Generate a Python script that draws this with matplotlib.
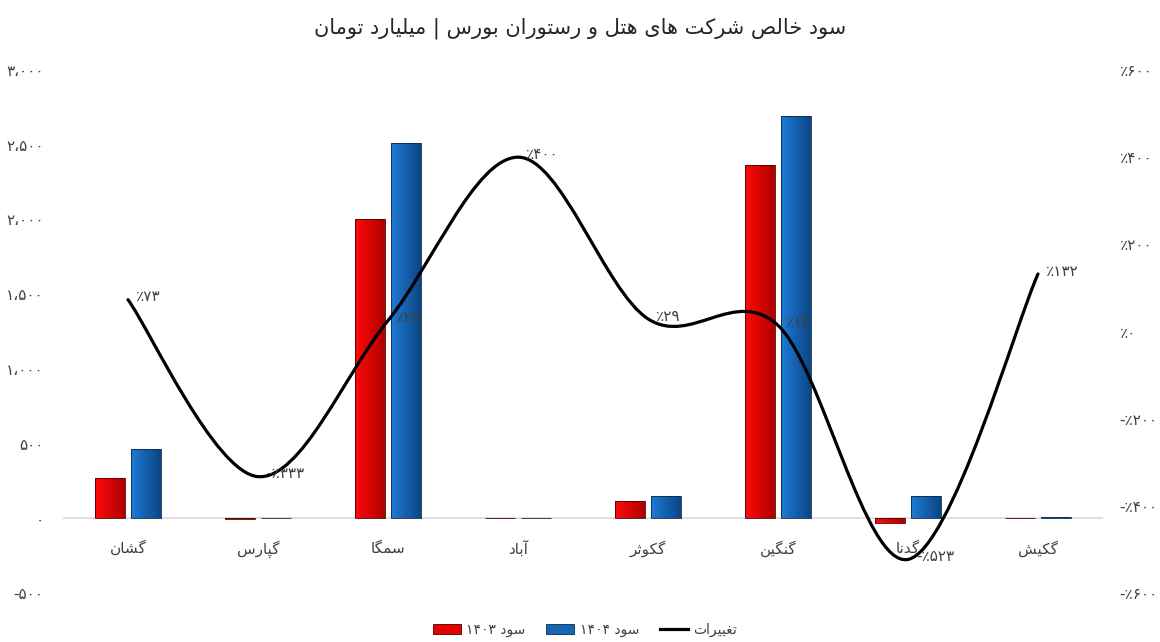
import matplotlib
matplotlib.use('Agg')
import matplotlib.pyplot as plt
import numpy as np
from matplotlib.path import Path
from matplotlib.patches import PathPatch, Patch
from matplotlib.lines import Line2D
from matplotlib.colors import LinearSegmentedColormap
from matplotlib.ticker import FuncFormatter, FixedLocator

# ---------------- data ----------------
categories = ['گشان', 'گپارس', 'سمگا', 'آباد', 'گکوثر', 'گنگین', 'گدنا', 'گکیش']
profit_1403 = [267, -5, 2005, 3, 114, 2366, -33, 3]
profit_1404 = [461, 5, 2513, 3, 147, 2694, 147, 8]
change_pct = [73, -333, 25, 400, 29, 14, -523, 132]
left_ticks = [-500, 0, 500, 1000, 1500, 2000, 2500, 3000]
right_ticks = [-600, -400, -200, 0, 200, 400, 600]
title_text = 'سود خالص شرکت های هتل و رستوران بورس | میلیارد تومان'
series_names = ['سود ۱۴۰۳', 'سود ۱۴۰۴', 'تغییرات']

plt.rcParams['font.family'] = ['DejaVu Sans']

# ---------------- minimal Persian shaping (matplotlib has no bidi/shaping) ----------------
FORMS = {
    'ا': ('\uFE8D', '\uFE8E', None, None),
    'آ': ('\uFE81', '\uFE82', None, None),
    'ب': ('\uFE8F', '\uFE90', '\uFE91', '\uFE92'),
    'پ': ('\uFB56', '\uFB57', '\uFB58', '\uFB59'),
    'ت': ('\uFE95', '\uFE96', '\uFE97', '\uFE98'),
    'ث': ('\uFE99', '\uFE9A', '\uFE9B', '\uFE9C'),
    'ج': ('\uFE9D', '\uFE9E', '\uFE9F', '\uFEA0'),
    'ح': ('\uFEA1', '\uFEA2', '\uFEA3', '\uFEA4'),
    'خ': ('\uFEA5', '\uFEA6', '\uFEA7', '\uFEA8'),
    'د': ('\uFEA9', '\uFEAA', None, None),
    'ذ': ('\uFEAB', '\uFEAC', None, None),
    'ر': ('\uFEAD', '\uFEAE', None, None),
    'ز': ('\uFEAF', '\uFEB0', None, None),
    'س': ('\uFEB1', '\uFEB2', '\uFEB3', '\uFEB4'),
    'ش': ('\uFEB5', '\uFEB6', '\uFEB7', '\uFEB8'),
    'ص': ('\uFEB9', '\uFEBA', '\uFEBB', '\uFEBC'),
    'ض': ('\uFEBD', '\uFEBE', '\uFEBF', '\uFEC0'),
    'ط': ('\uFEC1', '\uFEC2', '\uFEC3', '\uFEC4'),
    'ظ': ('\uFEC5', '\uFEC6', '\uFEC7', '\uFEC8'),
    'ع': ('\uFEC9', '\uFECA', '\uFECB', '\uFECC'),
    'غ': ('\uFECD', '\uFECE', '\uFECF', '\uFED0'),
    'ف': ('\uFED1', '\uFED2', '\uFED3', '\uFED4'),
    'ق': ('\uFED5', '\uFED6', '\uFED7', '\uFED8'),
    'ک': ('\uFB8E', '\uFB8F', '\uFB90', '\uFB91'),
    'گ': ('\uFB92', '\uFB93', '\uFB94', '\uFB95'),
    'ل': ('\uFEDD', '\uFEDE', '\uFEDF', '\uFEE0'),
    'م': ('\uFEE1', '\uFEE2', '\uFEE3', '\uFEE4'),
    'ن': ('\uFEE5', '\uFEE6', '\uFEE7', '\uFEE8'),
    'ه': ('\uFEE9', '\uFEEA', '\uFEEB', '\uFEEC'),
    'و': ('\uFEED', '\uFEEE', None, None),
    'ی': ('\uFBFC', '\uFBFD', '\uFBFE', '\uFBFF'),
}
DIGITS = set('0123456789۰۱۲۳۴۵۶۷۸۹،٬.')


def rtl(s):
    chars = list(s)
    shaped = []
    for i, c in enumerate(chars):
        if c not in FORMS:
            shaped.append(c)
            continue
        prev = chars[i - 1] if i > 0 else None
        nxt = chars[i + 1] if i + 1 < len(chars) else None
        jp = prev in FORMS and FORMS[prev][2] is not None
        jn = FORMS[c][2] is not None and nxt in FORMS
        iso, fin, ini, med = FORMS[c]
        if jp and jn:
            shaped.append(med)
        elif jp:
            shaped.append(fin)
        elif jn:
            shaped.append(ini)
        else:
            shaped.append(iso)
    tokens = []
    for c in shaped:
        if c in DIGITS and tokens and tokens[-1][0] in DIGITS:
            tokens[-1] += c
        else:
            tokens.append(c)
    return ''.join(reversed(tokens))


FA = str.maketrans('0123456789', '۰۱۲۳۴۵۶۷۸۹')


def fa_num(v):
    s = f'{abs(int(round(v))):,}'.replace(',', '،').translate(FA)
    return ('-' if v < 0 else '') + s


def fa_pct(v):
    s = str(abs(int(round(v)))).translate(FA)
    return ('-' if v < 0 else '') + '٪' + s


# ---------------- figure ----------------
W, H = 1160, 642
fig = plt.figure(figsize=(W / 100, H / 100), dpi=100)
ax = fig.add_axes([63 / W, 1 - 593 / H, 1040 / W, 523 / H])
ax2 = ax.twinx()

n = len(categories)
x = np.arange(n)
bw = 0.23
off = 0.138
TXT = '#404040'

red_bars = ax.bar(x - off, profit_1403, bw, facecolor='none', edgecolor='#4a0000', linewidth=0.6, zorder=3)
blue_bars = ax.bar(x + off, profit_1404, bw, facecolor='none', edgecolor='#0a2a4a', linewidth=0.6, zorder=3)


def gradient_fill(bars, c0, c1):
    cmap = LinearSegmentedColormap.from_list('g', [c0, c1])
    grad = np.linspace(0, 1, 64).reshape(1, -1)
    for b in bars:
        bx, by = b.get_x(), b.get_y()
        bw_, bh = b.get_width(), b.get_height()
        im = ax.imshow(grad, cmap=cmap, extent=(bx, bx + bw_, by, by + bh), aspect='auto',
                       interpolation='bilinear', zorder=2.9)
        im.set_clip_path(b)


gradient_fill(red_bars, '#ff0a0a', '#b00000')
gradient_fill(blue_bars, '#1f7ad6', '#0b4685')

ax.axhline(0, color='#d9d9d9', lw=1.2, zorder=1)

ax.set_xlim(-0.5, n - 0.5)
ax.set_ylim(-500, 3000)
ax2.set_ylim(-600, 600)

for a in (ax, ax2):
    for sp in a.spines.values():
        sp.set_visible(False)
ax.spines['bottom'].set_position(('data', 0))

ax.set_xticks(x)
ax.set_xticklabels([rtl(c) for c in categories], fontsize=11, color=TXT)
ax.tick_params(axis='x', length=0, pad=16)
ax.yaxis.set_major_locator(FixedLocator(left_ticks))
ax.yaxis.set_major_formatter(FuncFormatter(lambda v, p: fa_num(v)))
ax.tick_params(axis='y', length=0, pad=14, labelsize=11, labelcolor=TXT)
ax2.yaxis.set_major_locator(FixedLocator(right_ticks))
ax2.yaxis.set_major_formatter(FuncFormatter(lambda v, p: fa_pct(v)))
ax2.tick_params(axis='y', length=0, pad=12, labelsize=11, labelcolor=TXT)

# smoothed line (Bezier through the data points, Excel-style smoothing)
y = np.array(change_pct, dtype=float)
verts = [(x[0], y[0])]
codes = [Path.MOVETO]
for i in range(n - 1):
    p0 = i - 1 if i > 0 else i
    p3 = i + 2 if i + 2 < n else i + 1
    c1 = (x[i] + (x[i + 1] - x[p0]) / 6, y[i] + (y[i + 1] - y[p0]) / 6)
    c2 = (x[i + 1] - (x[p3] - x[i]) / 6, y[i + 1] - (y[p3] - y[i]) / 6)
    verts += [c1, c2, (x[i + 1], y[i + 1])]
    codes += [Path.CURVE4] * 3
ax2.add_patch(PathPatch(Path(verts, codes), facecolor='none', edgecolor='black', lw=2.3,
                        zorder=5, capstyle='round'))

for xi, yi in zip(x, change_pct):
    ax2.annotate(fa_pct(yi), (xi, yi), xytext=(6, 2), textcoords='offset points',
                 ha='left', va='center', fontsize=11, color=TXT, zorder=6)

fig.text(0.5, 1 - 28 / H, rtl(title_text), ha='center', va='center', fontsize=15, color='#262626')

handles = [Patch(facecolor='#e60000', edgecolor='#4a0000', lw=0.6),
           Patch(facecolor='#1565b5', edgecolor='#0a2a4a', lw=0.6),
           Line2D([0], [0], color='black', lw=2.3)]
fig.legend(handles, [rtl(s) for s in series_names], loc='center',
           bbox_to_anchor=(585 / W, 1 - 630 / H), ncol=3, frameon=False, fontsize=10,
           handlelength=2.0, handleheight=0.7, columnspacing=1.5, handletextpad=0.4,
           labelcolor=TXT)

fig.savefig('out.png', dpi=100)
